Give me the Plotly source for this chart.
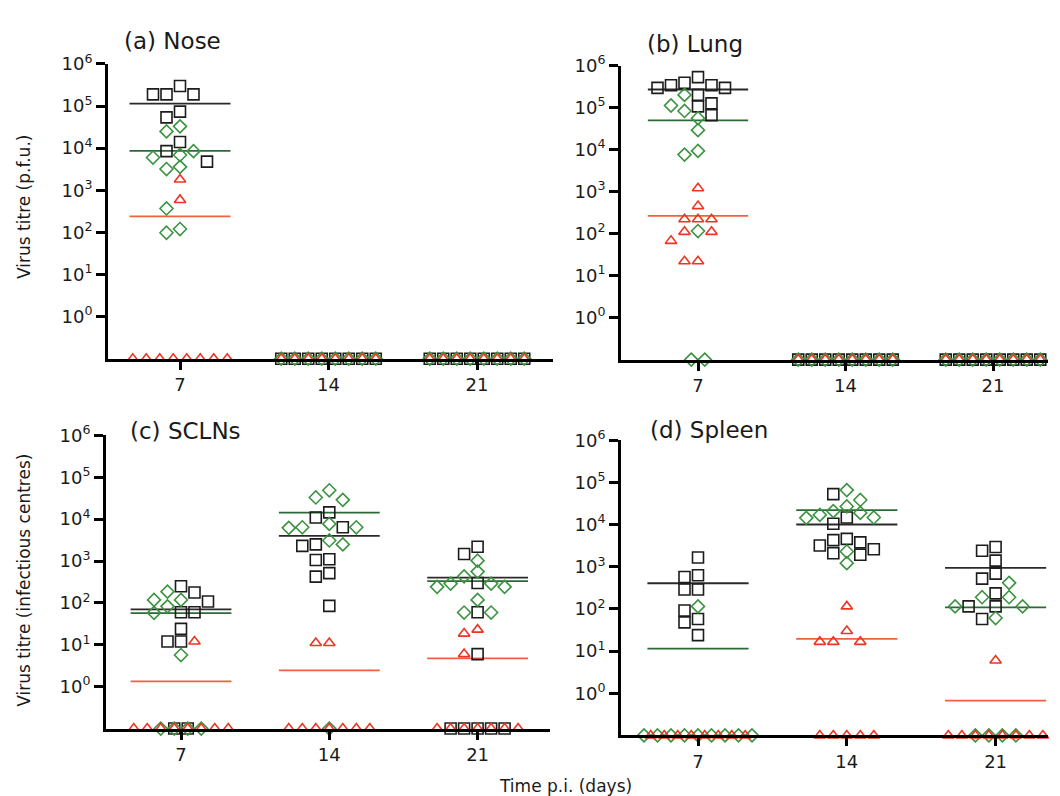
import plotly.graph_objects as go
import numpy as np

# ---------------- data ----------------
days = ["7", "14", "21"]
decade_ticks = [1, 10, 100, 1000, 10000, 100000, 1000000]
decade_labels = ["10<sup>0</sup>", "10<sup>1</sup>", "10<sup>2</sup>", "10<sup>3</sup>",
                 "10<sup>4</sup>", "10<sup>5</sup>", "10<sup>6</sup>"]

# (a) Nose  - each list holds [day 7, day 14, day 21]
nose_squares = [[3.0e5, 1.9e5, 1.9e5, 1.9e5, 7.4e4, 5.4e4, 1.4e4, 8.5e3, 4.8e3],
                [0, 0, 0, 0, 0, 0, 0, 0],
                [0, 0, 0, 0, 0, 0, 0, 0]]
nose_diamonds = [[3.3e4, 2.5e4, 8.5e3, 6.9e3, 6.0e3, 3.6e3, 3.2e3, 370, 120, 98],
                 [0, 0, 0, 0, 0, 0, 0, 0],
                 [0, 0, 0, 0, 0, 0, 0, 0]]
nose_triangles = [[1.8e3, 590, 0, 0, 0, 0, 0, 0, 0, 0],
                  [0, 0, 0, 0, 0, 0, 0, 0],
                  [0, 0, 0, 0, 0, 0, 0, 0]]

# (b) Lung
lung_squares = [[5.3e5, 3.9e5, 3.4e5, 3.4e5, 2.95e5, 2.95e5, 2.0e5, 1.26e5, 1.07e5, 6.6e4],
                [0, 0, 0, 0, 0, 0, 0, 0],
                [0, 0, 0, 0, 0, 0, 0, 0]]
lung_diamonds = [[2.0e5, 1.12e5, 8.3e4, 5.6e4, 2.9e4, 9.3e3, 7.6e3, 115, 0, 0],
                 [0, 0, 0, 0, 0, 0, 0, 0],
                 [0, 0, 0, 0, 0, 0, 0, 0]]
lung_triangles = [[1.2e3, 450, 220, 220, 220, 110, 110, 67, 22, 22],
                  [0, 0, 0, 0, 0, 0, 0, 0],
                  [0, 0, 0, 0, 0, 0, 0, 0]]

# (c) SCLNs
scln_squares = [[250, 178, 108, 60, 60, 24, 12, 12, 0, 0],
                [1.45e4, 1.1e4, 6.4e3, 2.5e3, 2.3e3, 1.1e3, 1.06e3, 515, 425, 85],
                [2.2e3, 1.47e3, 300, 60, 6, 0, 0, 0, 0, 0]]
scln_diamonds = [[186, 118, 118, 83, 58, 5.7, 0, 0, 0, 0],
                 [4.9e4, 3.3e4, 2.9e4, 7.7e3, 6.4e3, 6.4e3, 6.2e3, 3.1e3, 2.5e3, 0],
                 [1.02e3, 560, 430, 290, 290, 242, 242, 118, 59, 59]]
scln_triangles = [[12, 0, 0, 0, 0, 0, 0, 0, 0],
                  [11, 11, 0, 0, 0, 0, 0, 0, 0],
                  [23, 18.5, 6, 0, 0, 0, 0, 0, 0, 0]]

# (d) Spleen
spleen_squares = [[1.66e3, 630, 575, 290, 290, 92, 58, 48, 24],
                  [5.3e4, 1.48e4, 1.05e4, 4.6e3, 4.3e3, 3.8e3, 3.2e3, 2.6e3, 2.1e3, 1.94e3],
                  [2.96e3, 2.4e3, 1.4e3, 690, 525, 234, 115, 115, 58]]
spleen_diamonds = [[115, 0, 0, 0, 0, 0, 0, 0, 0, 0],
                   [6.6e4, 3.85e4, 2.7e4, 2.1e4, 1.9e4, 1.7e4, 1.48e4, 1.45e4, 2.3e3, 1.22e3],
                   [417, 190, 190, 115, 115, 61, 0, 0, 0, 0]]
spleen_triangles = [[0, 0, 0, 0, 0, 0, 0, 0],
                    [115, 30, 16.6, 16.6, 16.6, 0, 0, 0, 0, 0],
                    [6, 0, 0, 0, 0, 0, 0, 0, 0]]

# ---------------- styling / layout ----------------
W, H = 1060, 796
OFF = 8  # page margin of the rendered html
FONT = "DejaVu Sans, Liberation Sans, Arial, sans-serif"


def fx(px):
    return (px - OFF) / W


def fy(py):
    return 1 - (py - OFF) / H


series_style = [
    dict(symbol="square-open", size=11, color="#1c1c1c", line="#2a2a2a"),
    dict(symbol="diamond-open", size=10, color="#3b9340", line="#2b6a36"),
    dict(symbol="triangle-up-open", size=10, color="#ee3524", line="#f2603f"),
]

panels = [
    dict(title="(a) Nose", data=(nose_squares, nose_diamonds, nose_triangles),
         px=(108, 180, 148.5, 553), py=(51.7, 351.3), tpos=(172, 28)),
    dict(title="(b) Lung", data=(lung_squares, lung_diamonds, lung_triangles),
         px=(621, 698, 147.5, 1048), py=(53.3, 352.2), tpos=(695, 31)),
    dict(title="(c) SCLNs", data=(scln_squares, scln_diamonds, scln_triangles),
         px=(106, 181, 148.3, 550), py=(429.3, 727.3), tpos=(185, 425)),
    dict(title="(d) Spleen", data=(spleen_squares, spleen_diamonds, spleen_triangles),
         px=(621, 698, 148.8, 1048), py=(434.3, 734.3), tpos=(709, 424)),
]

SLOT_PX = 13.5
THR = 0.26  # collision distance in decades


def swarm_offsets(logvals):
    order = sorted(range(len(logvals)), key=lambda k: -logvals[k])
    placed = []
    offs = [0] * len(logvals)
    cand = [0]
    for j in range(1, 12):
        cand += [-j, j]
    for k in order:
        lv = logvals[k]
        for o in cand:
            if all(not (po == o and abs(plv - lv) < THR) for po, plv in placed):
                break
        placed.append((o, lv))
        offs[k] = o
    return offs


fig = go.Figure()
annotations = []

for pi, p in enumerate(panels):
    ax = "" if pi == 0 else str(pi + 1)
    L, T0, S, R = p["px"]
    top, bot = p["py"]
    slot = SLOT_PX / S
    xref, yref = "x" + ax, "y" + ax

    for di in range(3):
        items = []
        for si in range(3):
            for v in p["data"][si][di]:
                if v > 0:
                    items.append((np.log10(v), si, v))
        offs = swarm_offsets([it[0] for it in items])
        xs = {0: [], 1: [], 2: []}
        ys = {0: [], 1: [], 2: []}
        for it, o in zip(items, offs):
            xs[it[1]].append(di + o * slot)
            ys[it[1]].append(it[2])
        for si in range(3):
            nz = sum(1 for v in p["data"][si][di] if v == 0)
            for k in range(nz):
                xs[si].append(di + (k - (nz - 1) / 2) * slot)
                ys[si].append(0.1)
        for si in range(3):
            vals = p["data"][si][di]
            m = float(np.mean(vals))
            if m > 0:
                st = series_style[si]
                fig.add_trace(go.Scatter(
                    x=[di - 0.34, di + 0.34], y=[m, m], mode="lines",
                    line=dict(color=st["line"], width=1.8),
                    xaxis=xref, yaxis=yref, showlegend=False, hoverinfo="skip"))
        for si in range(3):
            st = series_style[si]
            fig.add_trace(go.Scatter(
                x=xs[si], y=ys[si], mode="markers", cliponaxis=False,
                marker=dict(symbol=st["symbol"], size=st["size"], color=st["color"],
                            line=dict(color=st["color"], width=1.6)),
                xaxis=xref, yaxis=yref, showlegend=False))

    fig.layout["xaxis" + ax] = dict(
        domain=[fx(L), fx(R)], range=[(L - T0) / S, (R - T0) / S],
        tickvals=[0, 1, 2], ticktext=days, ticks="outside", ticklen=8, tickwidth=3,
        tickcolor="black", showline=True, linewidth=3, linecolor="black",
        showgrid=False, zeroline=False, anchor=yref,
        tickfont=dict(family=FONT, size=18, color="#1a1a1a"))
    fig.layout["yaxis" + ax] = dict(
        domain=[fy(bot), fy(top)], type="log", range=[-1, 6],
        tickvals=decade_ticks, ticktext=decade_labels, ticks="outside", ticklen=9,
        tickwidth=3, tickcolor="black", showline=True, linewidth=3, linecolor="black",
        showgrid=False, zeroline=False, anchor=xref,
        tickfont=dict(family=FONT, size=18, color="#1a1a1a"))

    tx, ty = p["tpos"]
    annotations.append(dict(text=p["title"], x=fx(tx), y=fy(ty), xref="paper", yref="paper",
                            showarrow=False, xanchor="center", yanchor="middle",
                            font=dict(family=FONT, size=23, color="#1a1a1a")))

annotations += [
    dict(text="Virus titre (p.f.u.)", x=fx(24), y=fy(197), xref="paper", yref="paper",
         showarrow=False, textangle=-90, xanchor="center", yanchor="middle",
         font=dict(family=FONT, size=17, color="#1a1a1a")),
    dict(text="Virus titre (infectious centres)", x=fx(24), y=fy(577), xref="paper",
         yref="paper", showarrow=False, textangle=-90, xanchor="center", yanchor="middle",
         font=dict(family=FONT, size=17, color="#1a1a1a")),
    dict(text="Time p.i. (days)", x=fx(565), y=fy(786), xref="paper", yref="paper",
         showarrow=False, xanchor="center", yanchor="middle",
         font=dict(family=FONT, size=17, color="#1a1a1a")),
]

fig.update_layout(width=W, height=H, margin=dict(l=0, r=0, t=0, b=0),
                  plot_bgcolor="white", paper_bgcolor="white",
                  font=dict(family=FONT),
                  annotations=annotations, showlegend=False)

fig.write_html("out.html")
